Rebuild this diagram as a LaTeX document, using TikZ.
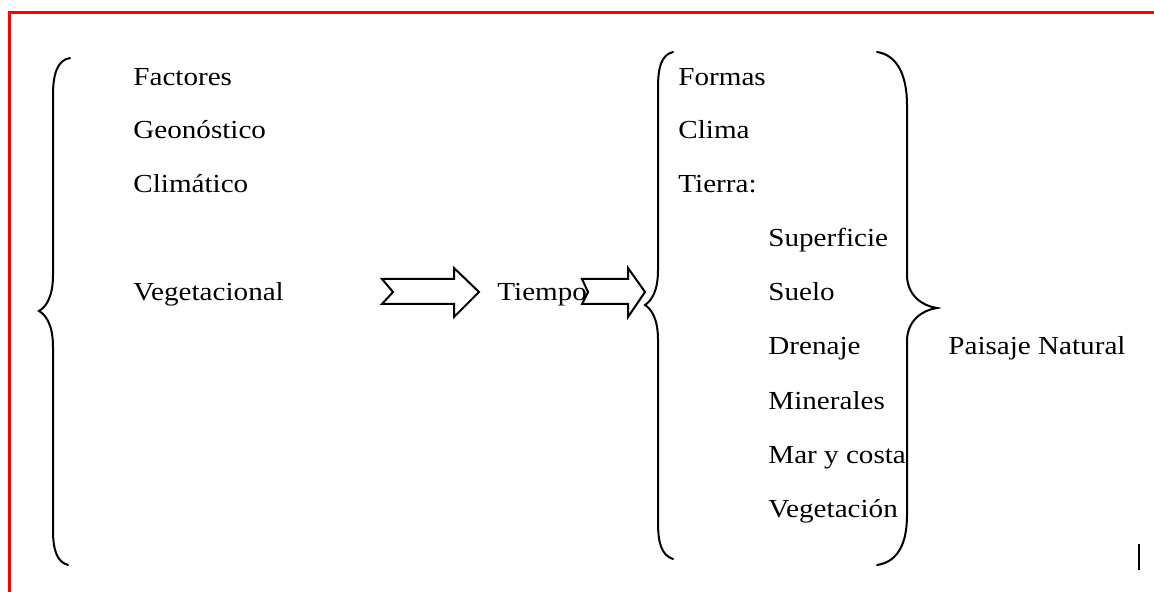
\documentclass[tikz,border=0pt]{standalone}
\usepackage{fontspec}
\setmainfont[FakeStretch=1.12]{Liberation Serif}
\usetikzlibrary{calc}

\tikzset{
  item/.style={anchor=base west, inner sep=0pt, font=\fontsize{13}{15}\selectfont},
  brace/.style={line width=1pt, line cap=round},
  fatarrow/.style={line width=1pt, line join=miter},
}
%% notched block arrow: start, tip, head length, notch depth
\newcommand{\notcharrow}[4]{%
  \draw[fatarrow] ($(#1)+(0,-13)$) -- ($(#2)+(-#3,-13)$) -- ($(#2)+(-#3,-24)$)
    -- (#2) -- ($(#2)+(-#3,25)$) -- ($(#2)+(-#3,12)$) -- ($(#1)+(0,12)$)
    -- ($(#1)+(#4,0)$) -- cycle;}

\begin{document}
\begin{tikzpicture}[x=0.5pt,y=-0.5pt]
    \useasboundingbox (0,0) rectangle (1154,592);
    %% Frame
    \draw[red, line width=1.5pt] (9,592) -- (9,13) -- (1154,13);
    %% Draw the factors
    \node[item] (F) at (133,86) {Factores};
    \node[item] (G) at (133,139) {Geonóstico};
    \node[item] (C) at (133,193) {Climático};
    \node[item] (V) at (133,301) {Vegetacional};
    \node[item] (T) at (497,301) {Tiempo};
    %% Draw the components
    \node[item] (Fo) at (678,86) {Formas};
    \node[item] (Cl) at (678,139) {Clima};
    \node[item] (Ti) at (678,193) {Tierra:};
    \node[item] (Su) at (768,247) {Superficie};
    \node[item] (Se) at (768,301) {Suelo};
    \node[item] (Dr) at (768,355) {Drenaje};
    \node[item] (Mi) at (768,409) {Minerales};
    \node[item] (Ma) at (768,463) {Mar y costa};
    \node[item] (Ve) at (768,517) {Vegetación};
    \node[item] (P) at (948,355) {Paisaje Natural};
    %% Draw the braces
    \begin{scope}[every path/.style={brace}]
      \draw (70,58) .. controls (57,60) and (53,75) .. (53,95) -- (53,275)
        .. controls (53,297) and (46,307) .. (39,311)
        .. controls (46,315) and (53,325) .. (53,347) -- (53,530)
        .. controls (53,550) and (57,562) .. (68,565);
      \draw (673,52) .. controls (661,55) and (658,68) .. (658,88) -- (658,270)
        .. controls (658,292) and (651,301) .. (645,305)
        .. controls (651,309) and (658,318) .. (658,340) -- (658,522)
        .. controls (658,542) and (661,555) .. (673,559);
      \draw (877,52) .. controls (897,55) and (907,75) .. (907,105) -- (907,275)
        .. controls (907,295) and (922,306) .. (937,308)
        .. controls (922,310) and (907,321) .. (907,341) -- (907,515)
        .. controls (907,545) and (897,562) .. (877,565);
    \end{scope}
    %% Draw the arrows
    \coordinate (A1) at (382,292);
    \coordinate (A1e) at (479,292);
    \coordinate (A2) at (582,292);
    \coordinate (A2e) at (645,292);
    \notcharrow{A1}{A1e}{25}{11}
    \notcharrow{A2}{A2e}{17}{6}
    %% cursor mark
    \draw[line width=1.2pt] (1139,544) -- (1139,570);
\end{tikzpicture}
\end{document}
